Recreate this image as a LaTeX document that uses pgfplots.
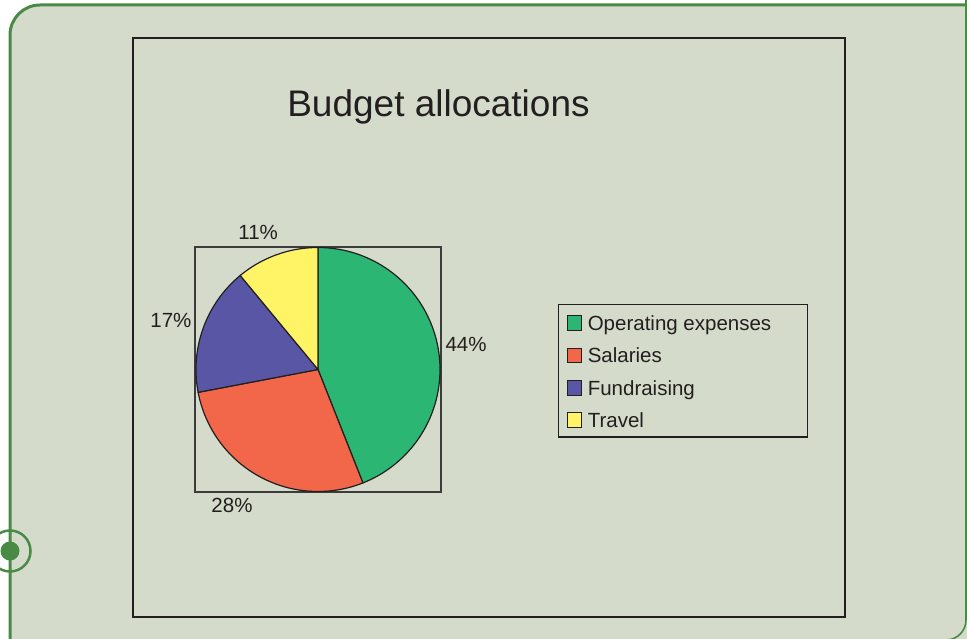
\documentclass[border=0pt]{standalone}
\usepackage{pgfplots}
\pgfplotsset{compat=1.18}
\usepackage{pgfplotstable}
\usepackage{fontspec}
\setmainfont{Liberation Sans}

\definecolor{bgc}{HTML}{D5DBCB}
\definecolor{framec}{HTML}{4A8A47}
\definecolor{outl}{HTML}{231F20}
\definecolor{boxc}{HTML}{3C3C3C}
\definecolor{txt}{HTML}{231F20}
\definecolor{cgreen}{HTML}{2BB673}
\definecolor{cred}{HTML}{F26649}
\definecolor{cblue}{HTML}{5956A5}
\definecolor{cyellow}{HTML}{FFF466}

% share of the budget, in per cent
\pgfplotstableread{
name        pct
Operating   44
Salaries    28
Fundraising 17
Travel      11
}\budget

\begin{document}
\begin{tikzpicture}[x=1pt,y=1pt]
    \pgfplotstablegetelem{0}{pct}\of\budget \let\pA\pgfplotsretval
    \pgfplotstablegetelem{1}{pct}\of\budget \let\pB\pgfplotsretval
    \pgfplotstablegetelem{2}{pct}\of\budget \let\pC\pgfplotsretval
    \pgfplotstablegetelem{3}{pct}\of\budget \let\pD\pgfplotsretval
    % slices run clockwise from twelve o'clock
    \pgfmathsetmacro\aA{90}
    \pgfmathsetmacro\aB{\aA-3.6*\pA}
    \pgfmathsetmacro\aC{\aB-3.6*\pB}
    \pgfmathsetmacro\aD{\aC-3.6*\pC}
    \pgfmathsetmacro\aE{\aD-3.6*\pD}

    \begin{scope}
    \clip (0,0) rectangle (967,638);
    \fill[white] (0,0) rectangle (967,638);
    % page frame
    \fill[bgc] (10,-5) -- (10,603) arc[start angle=180,end angle=90,radius=30]
        -- (970,633) -- (970,-5) -- cycle;
    \draw[framec, line width=3pt] (10,-5) -- (10,603)
        arc[start angle=180,end angle=90,radius=30] -- (975,633);
    \draw[framec, line width=1.6pt] (966,640) -- (966,18)
        arc[start angle=0,end angle=-90,radius=20] -- (900,-2);
    \draw[framec, line width=2.5pt] (10,87) circle (20.5);
    \fill[framec] (10,87) circle (9.5);
    \end{scope}
    % chart area
    \draw[outl, line width=1.2pt, fill=bgc] (133,21) rectangle (845,600);
    \node[font=\fontsize{37}{43}\selectfont, text=txt, anchor=base] at (438.5,521) {Budget allocations};

    \begin{axis}[
        at={(195pt,146pt)}, anchor=south west,
        scale only axis, width=246pt, height=245pt,
        xmin=-1.008, xmax=1.008, ymin=-1.004, ymax=1.004,
        xtick=\empty, ytick=\empty,
        axis line style={draw=boxc, line width=1.3pt},
        clip=false,
        legend cell align=left,
        legend image code/.code={
            \draw[#1, draw=outl, line width=1pt] (0pt,-8pt) rectangle (14pt,6.5pt);
            \path (20pt,0pt);},
        legend style={at={(1.476,0.767)}, anchor=north west,
            draw=outl, line width=1.2pt, fill=bgc,
            font=\fontsize{20.5}{24}\selectfont,
            inner xsep=8pt, inner ysep=4.5pt, row sep=5.8pt,
            nodes={inner sep=0pt, text height=21.5pt, text depth=5pt, text=txt}},
        pie/.style={draw=outl, line width=1.2pt, samples=80, variable=\t},
    ]
        \addplot[pie, fill=cgreen, domain=\aB:\aA] ({cos(\t)},{sin(\t)}) -- (axis cs:0,0) -- cycle;
        \addplot[pie, fill=cred, domain=\aC:\aB] ({cos(\t)},{sin(\t)}) -- (axis cs:0,0) -- cycle;
        \addplot[pie, fill=cblue, domain=\aD:\aC] ({cos(\t)},{sin(\t)}) -- (axis cs:0,0) -- cycle;
        \addplot[pie, fill=cyellow, domain=\aE:\aD] ({cos(\t)},{sin(\t)}) -- (axis cs:0,0) -- cycle;
        \legend{\makebox[212pt][l]{Operating expenses}, Salaries, Fundraising, Travel}

        \begin{scope}[font=\fontsize{20.5}{24}\selectfont, text=txt]
            \node at (axis cs:1.213,0.205) {\pA\%};
            \node at (axis cs:-0.705,-1.115) {\pB\%};
            \node at (axis cs:-1.205,0.40) {\pC\%};
            \node at (axis cs:-0.49,1.12) {\pD\%};
        \end{scope}
    \end{axis}
    \pgfresetboundingbox
    \useasboundingbox (0,0) rectangle (967,638);
\end{tikzpicture}
\end{document}
